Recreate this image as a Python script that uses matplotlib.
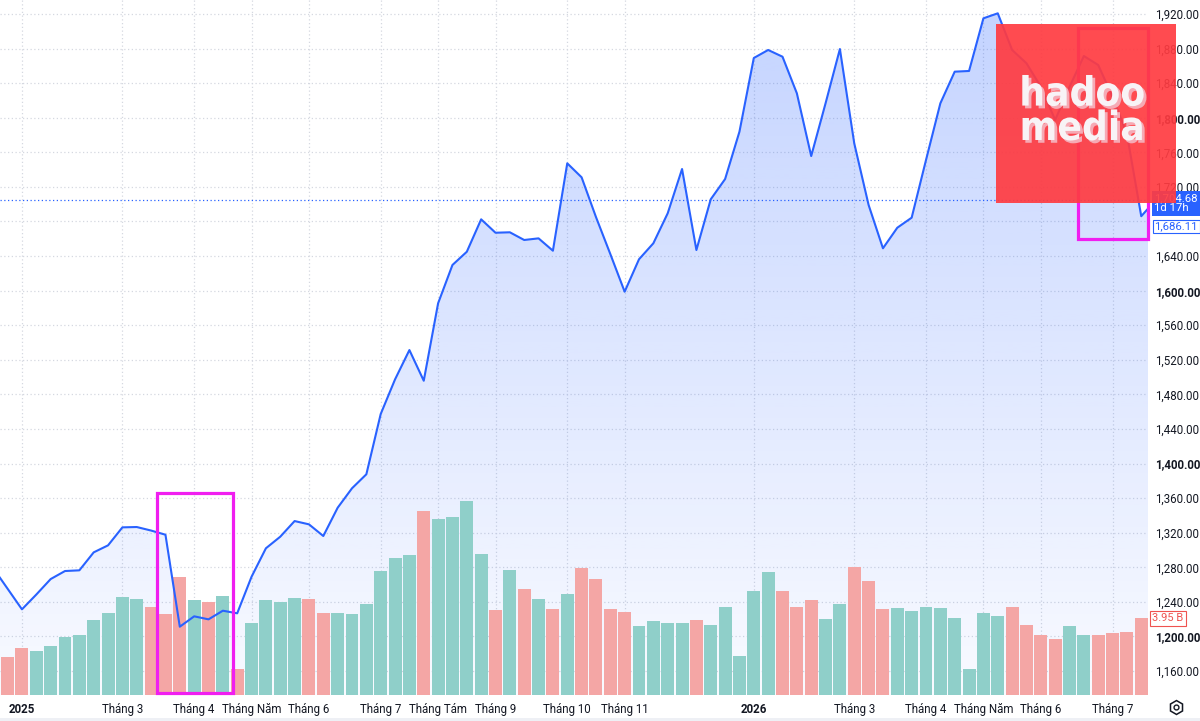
import numpy as np
import matplotlib
matplotlib.use("Agg")
import matplotlib.pyplot as plt
import matplotlib.patheffects as pe
from matplotlib.patches import Rectangle
from matplotlib.lines import Line2D

plt.rcParams['font.family'] = ['Roboto', 'DejaVu Sans']

# weekly closes, week index -1 .. 80 (first and last sit just outside the view)
weeks = np.arange(-1, 81)
closes = [1279.0, 1255.2, 1231.4, 1248.5, 1266.4, 1275.7, 1276.5, 1297.3, 1305.4, 1326.2,
          1326.6, 1322.5, 1317.7, 1211.3, 1223.3, 1219.8, 1229.8, 1226.8, 1269.1, 1302.0,
          1315.4, 1333.5, 1329.7, 1316.2, 1348.9, 1371.4, 1387.6, 1457.3, 1497.4, 1531.3,
          1495.8, 1585.4, 1629.7, 1645.0, 1682.5, 1667.0, 1667.5, 1658.6, 1660.5, 1646.2,
          1747.3, 1731.1, 1685.2, 1642.4, 1598.8, 1636.3, 1654.8, 1689.5, 1740.7, 1647.0,
          1705.7, 1729.1, 1783.9, 1869.1, 1878.4, 1870.6, 1828.3, 1755.7, 1816.7, 1879.5,
          1770.4, 1699.1, 1649.0, 1672.8, 1684.4, 1751.1, 1816.7, 1853.3, 1854.1, 1915.0,
          1920.8, 1878.4, 1863.0, 1835.9, 1797.4, 1835.6, 1871.4, 1861.0, 1824.3, 1781.2,
          1686.11, 1704.68]

# weekly volume in billions, week index 0 .. 79
volumes = [1.97, 2.41, 2.27, 2.52, 3.00, 3.07, 3.86, 4.24, 5.03, 4.96,
           4.53, 4.17, 6.06, 4.88, 4.79, 5.08, 1.34, 3.69, 4.91, 4.79,
           5.00, 4.96, 4.24, 4.21, 4.16, 4.70, 6.40, 7.06, 7.19, 9.46,
           9.08, 9.15, 9.99, 7.28, 4.36, 6.44, 5.47, 4.96, 4.41, 5.22,
           6.53, 5.97, 4.41, 4.29, 3.54, 3.80, 3.69, 3.69, 3.88, 3.62,
           4.53, 2.01, 5.37, 6.35, 5.37, 4.53, 4.88, 3.91, 4.70, 6.59,
           5.89, 4.41, 4.50, 4.34, 4.53, 4.47, 3.95, 1.34, 4.24, 4.07,
           4.53, 3.62, 3.07, 2.90, 3.54, 3.11, 3.07, 3.19, 3.23, 3.95]

month_pos = [1, 8, 13, 17, 21, 26, 30, 34, 39, 43, 52, 59, 64, 68, 72, 77]
month_lab = ['2025', 'Tháng 3', 'Tháng 4', 'Tháng Năm', 'Tháng 6', 'Tháng 7', 'Tháng Tám',
             'Tháng 9', 'Tháng 10', 'Tháng 11', '2026', 'Tháng 3', 'Tháng 4', 'Tháng Năm',
             'Tháng 6', 'Tháng 7']
price_ticks = list(range(1160, 1921, 40))
hidden_tick = 1680  # covered by the last-price label

# highlighted boxes (week from, week to, price from, price to)
highlights = [(10.4, 15.7, 1134.6, 1366.0), (74.6, 79.5, 1659.7, 1903.8)]

xlim = (-0.53, 79.47)
ylim = (1132.3, 1936.2)
vol_top = 35.8

LINE = '#2962ff'
TXT = '#131722'
UP = '#8fcfc9'
DOWN = '#f4a6a5'

fig = plt.figure(figsize=(12, 7.21), dpi=100)
rect = [0, 26 / 721, 1148 / 1200, 695 / 721]
ax_bg = fig.add_axes(rect, zorder=0)
ax_vol = fig.add_axes(rect, zorder=1)
ax_line = fig.add_axes(rect, zorder=2)
for a in (ax_bg, ax_vol, ax_line):
    for s in a.spines.values():
        s.set_visible(False)
    a.set_xlim(*xlim)
ax_vol.patch.set_visible(False)
ax_line.patch.set_visible(False)

# background grid + gradient area
ax_bg.set_ylim(*ylim)
ax_bg.set_xticks(month_pos)
ax_bg.set_yticks(price_ticks)
ax_bg.tick_params(length=0, labelbottom=False, labelleft=False)
ax_bg.grid(True, ls=(0, (1, 2)), color='#d5d8e0', lw=0.9)
ax_bg.set_axisbelow(True)
wx = np.concatenate([[weeks[0]], weeks, [weeks[-1]]])
wy = np.concatenate([[ylim[0]], closes, [ylim[0]]])
poly = ax_bg.fill(wx, wy, facecolor='none', edgecolor='none')[0]
grad = np.zeros((256, 1, 4))
grad[..., 0], grad[..., 1], grad[..., 2] = 41 / 255, 98 / 255, 1.0
grad[:, 0, 3] = np.linspace(0.28, 0.03, 256)
im = ax_bg.imshow(grad, extent=[xlim[0], xlim[1], ylim[0], ylim[1]],
                  aspect='auto', origin='upper', zorder=1)
im.set_clip_path(poly)
ax_bg.set_xlim(*xlim)
ax_bg.set_ylim(*ylim)

# volume bars
cols = [UP if closes[i + 1] >= closes[i] else DOWN for i in range(len(volumes))]
ax_vol.bar(np.arange(len(volumes)), volumes, width=0.9, color=cols, zorder=2)
ax_vol.set_ylim(0, vol_top)
ax_vol.set_xlim(*xlim)
ax_vol.set_xticks([])
ax_vol.set_yticks([])
ax_vol.annotate(f"{volumes[-1]:.2f} B", xy=(1, volumes[-1]),
                xycoords=('axes fraction', 'data'), xytext=(3.2, 0),
                textcoords='offset points', ha='left', va='center', fontsize=8,
                color='#ef5350', annotation_clip=False,
                bbox=dict(boxstyle='square,pad=0.2', fc='white', ec='#ef5350', lw=0.8))

# price line
ax_line.plot(weeks, closes, color=LINE, lw=1.5, zorder=3)
ax_line.axhline(closes[-1], color=LINE, ls=(0, (1, 2)), lw=0.9, zorder=2)
ax_line.set_xlim(*xlim)
ax_line.set_ylim(*ylim)
ax_line.yaxis.tick_right()
ax_line.set_yticks(price_ticks,
                   labels=['' if v == hidden_tick else f"{v:,.2f}" for v in price_ticks])
ax_line.set_xticks(month_pos, labels=month_lab)
ax_line.tick_params(axis='y', length=0, pad=5, labelsize=8.3, labelcolor=TXT)
ax_line.tick_params(axis='x', length=0, pad=5.5, labelsize=8.3, labelcolor=TXT)
for lab, v in zip(ax_line.get_yticklabels(), price_ticks):
    if v % 200 == 0:
        lab.set_fontweight('bold')
for lab in ax_line.get_xticklabels():
    if lab.get_text().isdigit():
        lab.set_fontweight('bold')

for x0, x1, y0, y1 in highlights:
    ax_line.add_patch(Rectangle((x0, y0), x1 - x0, y1 - y0, fill=False,
                                ec='#f01ef0', lw=2.3, zorder=4, clip_on=False))

ax_line.annotate(f"{closes[-1]:,.2f}\n1d 17h", xy=(1, closes[-1]),
                 xycoords=('axes fraction', 'data'), xytext=(4.6, 4.8),
                 textcoords='offset points', ha='left', va='top', fontsize=8.2,
                 color='white', linespacing=0.95, annotation_clip=False,
                 bbox=dict(boxstyle='square,pad=0.22', fc=LINE, ec='none'))
ax_line.annotate(f"{closes[-2]:,.2f}", xy=(1, closes[-2]),
                 xycoords=('axes fraction', 'data'), xytext=(4.6, -7.2),
                 textcoords='offset points', ha='left', va='center', fontsize=8.2,
                 color=LINE, annotation_clip=False,
                 bbox=dict(boxstyle='square,pad=0.15', fc='white', ec=LINE, lw=0.8))

# watermark
fig.add_artist(Rectangle((996 / 1200, 518 / 721), 180 / 1200, 179 / 721,
                         transform=fig.transFigure, fc='#ff3b41', alpha=0.92,
                         ec='none', zorder=10))
shadow = [pe.withSimplePatchShadow(offset=(2, -2), shadow_rgbFace='#f6aab5', alpha=1)]
fig.text(1082 / 1200, 1 - 140 / 721, 'hadoo\nmedia', ha='center', va='baseline',
         multialignment='center', linespacing=0.82,
         family='DejaVu Sans', fontstretch='condensed', fontweight='bold',
         fontsize=29, color='#f8f3f6', path_effects=shadow, zorder=11)

# settings icon and bottom strip
fig.add_artist(Line2D([1176 / 1200], [1 - 707 / 721], marker='h', ms=10, mfc='none',
                      mec=TXT, mew=1.1, transform=fig.transFigure))
fig.add_artist(Line2D([1176 / 1200], [1 - 707 / 721], marker='o', ms=3.5, mfc='none',
                      mec=TXT, mew=1.0, transform=fig.transFigure))
fig.add_artist(Rectangle((0, 0), 1, 3 / 721, transform=fig.transFigure,
                         fc='#eef0f5', ec='none'))

fig.savefig('out.png', dpi=100)
